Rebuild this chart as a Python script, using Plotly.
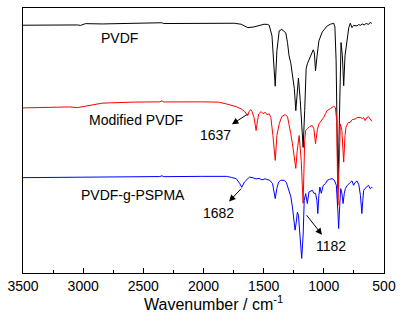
import plotly.graph_objects as go

# FTIR spectra (wavenumber in cm^-1, transmittance in a.u., traces already offset)
wn_pvdf = [3500, 3113, 3047, 3022, 2981, 2841, 2594, 2363, 2346, 2330, 2016, 1745, 1687,
           1632, 1580, 1538, 1497, 1467, 1454, 1431, 1404, 1390, 1371, 1349, 1330, 1316,
           1302, 1289, 1275, 1261, 1245, 1233, 1221, 1211, 1196, 1172, 1159, 1147, 1137,
           1118, 1088, 1079, 1069, 1056, 1041, 1013, 972, 945, 918, 908, 898, 883, 868,
           857, 846, 835, 824, 807, 793, 780, 766, 753, 725, 710, 698, 681, 665, 648, 629,
           615, 601]
t_pvdf = [248.7, 249.3, 249.0, 248.5, 250.3, 250.0, 250.3, 250.7, 251.2, 250.4, 250.7, 250.7,
          249.7, 246.3, 247.0, 248.0, 249.7, 249.5, 248.7, 238.0, 187.5, 223.0, 243.0, 244.5,
          243.0, 241.0, 231.3, 218.0, 211.0, 198.0, 185.0, 163.0, 183.0, 195.7, 173.0, 126.0,
          163.0, 205.0, 210.0, 216.0, 224.0, 221.0, 203.0, 218.0, 233.0, 242.0, 248.0, 249.7,
          250.7, 247.0, 213.0, 85.0, 183.0, 231.3, 218.0, 188.0, 218.0, 235.0, 246.0, 250.7,
          246.3, 248.5, 248.0, 249.5, 248.5, 250.0, 249.0, 250.5, 249.5, 251.5, 250.5]

wn_mod = [3500, 3113, 3047, 3005, 2923, 2841, 2594, 2363, 2346, 2330, 2016, 1876, 1810,
          1769, 1728, 1687, 1660, 1632, 1621, 1608, 1596, 1580, 1563, 1551, 1541, 1522,
          1505, 1487, 1473, 1454, 1440, 1423, 1404, 1390, 1371, 1349, 1322, 1302, 1289,
          1275, 1261, 1246, 1233, 1221, 1205, 1188, 1172, 1159, 1151, 1137, 1118, 1096,
          1083, 1069, 1055, 1041, 1019, 1000, 986, 972, 945, 918, 904, 893, 883, 871, 863,
          850, 835, 824, 816, 797, 780, 764, 739, 723, 698, 681, 669, 657, 643, 629, 615,
          601]
t_mod = [165.7, 166.7, 166.0, 167.0, 169.0, 170.5, 171.5, 171.8, 172.8, 171.7, 171.8, 171.5,
         169.7, 168.5, 167.0, 164.7, 162.3, 158.0, 162.0, 164.0, 162.0, 156.0, 143.0, 153.0,
         159.7, 162.0, 160.0, 161.3, 159.0, 159.7, 156.0, 138.0, 113.0, 138.0, 149.7, 157.0,
         159.0, 157.0, 149.7, 140.0, 129.7, 113.0, 105.0, 123.0, 138.0, 113.0, 70.0, 133.0,
         143.0, 144.7, 147.0, 148.0, 145.0, 129.7, 143.0, 149.7, 153.0, 156.3, 160.0, 163.0,
         165.0, 167.3, 166.0, 153.0, 68.0, 133.0, 149.7, 143.0, 111.3, 138.0, 146.3, 151.0,
         151.3, 154.0, 154.7, 156.0, 156.3, 155.0, 156.0, 153.0, 156.0, 157.0, 155.0, 152.3]

wn_graft = [3500, 3113, 3005, 2923, 2594, 2363, 2346, 2330, 2016, 1876, 1810, 1769, 1728,
            1700, 1682, 1660, 1637, 1618, 1588, 1563, 1538, 1514, 1489, 1467, 1448, 1426,
            1404, 1390, 1376, 1357, 1330, 1312, 1289, 1275, 1261, 1250, 1239, 1229, 1220,
            1211, 1200, 1184, 1172, 1163, 1151, 1137, 1124, 1110, 1096, 1083, 1069, 1058,
            1050, 1041, 1033, 1021, 1005, 986, 972, 953, 931, 912, 896, 883, 877, 868, 860,
            850, 840, 830, 821, 805, 780, 766, 753, 739, 725, 710, 696, 684, 676, 669, 657,
            643, 629, 615, 601, 596]
t_graft = [95.7, 96.0, 96.2, 96.3, 96.7, 96.8, 97.6, 96.7, 97.0, 97.0, 97.0, 96.0, 94.7,
           90.0, 86.0, 91.3, 94.5, 96.3, 95.5, 94.5, 95.0, 93.5, 94.5, 93.5, 93.0, 89.7,
           74.7, 85.0, 91.3, 93.2, 93.0, 91.0, 83.0, 77.0, 66.3, 55.0, 43.0, 51.0, 61.0,
           58.0, 38.0, 14.7, 38.0, 73.0, 79.7, 69.7, 81.3, 82.0, 83.0, 80.0, 80.0, 73.0,
           59.7, 78.0, 86.3, 80.0, 88.0, 89.7, 93.0, 94.0, 94.7, 93.0, 88.0, 61.0, 44.7,
           68.0, 84.7, 80.0, 69.7, 80.0, 84.7, 88.0, 91.3, 92.5, 88.0, 91.0, 92.3, 89.0,
           78.0, 59.7, 73.0, 83.0, 85.0, 87.0, 88.0, 84.7, 86.0, 85.5]

series = [
    ("PVDF", wn_pvdf, t_pvdf, "#000000"),
    ("Modified PVDF", wn_mod, t_mod, "#ff0000"),
    ("PVDF-g-PSPMA", wn_graft, t_graft, "#0000ff"),
]

# Trace labels: (text, wavenumber, y)
trace_labels = [("PVDF", 2696, 235.7), ("Modified PVDF", 2560, 153.7),
                ("PVDF-g-PSPMA", 2589, 78.7)]
# Band callouts: (text, text wn, text y, band wn, band y) - arrow runs from band to text
band_labels = [
    ("1637", 1901, 138.7, 1632, 159.5),
    ("1682", 1872, 60.7, 1687, 84.7),
    ("1182", 943, 27.3, 1143, 58.0),
]
x_ticks = [3500, 3000, 2500, 2000, 1500, 1000, 500]

FONT = "Liberation Sans, Arial, sans-serif"

fig = go.Figure()
for name, x, y, color in series:
    fig.add_trace(go.Scatter(x=x, y=y, mode="lines", name=name,
                             line=dict(color=color, width=1), showlegend=False))

annotations = []
for text, x, y in trace_labels:
    annotations.append(dict(x=x, y=y, xref="x", yref="y", text=text, showarrow=False,
                            font=dict(family=FONT, size=14, color="#000")))
for text, tx, ty, bx, by in band_labels:
    annotations.append(dict(x=bx, y=by, xref="x", yref="y", ax=tx, ay=ty,
                            axref="x", ayref="y", text=text, showarrow=True,
                            arrowside="start", startarrowhead=2, startarrowsize=1.3,
                            startstandoff=2, arrowwidth=1, arrowcolor="#000",
                            font=dict(family=FONT, size=14, color="#000")))

# x-axis title placed as a paper annotation
annotations.append(dict(x=0.527, y=-0.113, xref="paper", yref="paper",
                        xanchor="center", yanchor="middle",
                        text="Wavenumber / cm<sup>-1</sup>", showarrow=False,
                        font=dict(family=FONT, size=16, color="#000")))

fig.update_layout(
    width=408, height=327,
    margin=dict(l=20, r=24, t=7, b=54),
    paper_bgcolor="white", plot_bgcolor="white",
    font=dict(family=FONT, size=14, color="#000"),
    annotations=annotations,
    xaxis=dict(
        range=[3500, 500], tickvals=x_ticks, ticks="inside", ticklen=5, tickwidth=1,
        tickcolor="#000", showline=True, linecolor="#000", linewidth=1, mirror=True,
        showgrid=False, zeroline=False,
        minor=dict(ticks="inside", ticklen=3, dtick=250, tickcolor="#000", showgrid=False),
        tickfont=dict(family=FONT, size=14, color="#000"),
    ),
    yaxis=dict(
        range=[0, 266], showticklabels=False, ticks="", showline=True, linecolor="#000",
        linewidth=1, mirror=True, showgrid=False, zeroline=False,
    ),
)

fig.write_html("out.html")
